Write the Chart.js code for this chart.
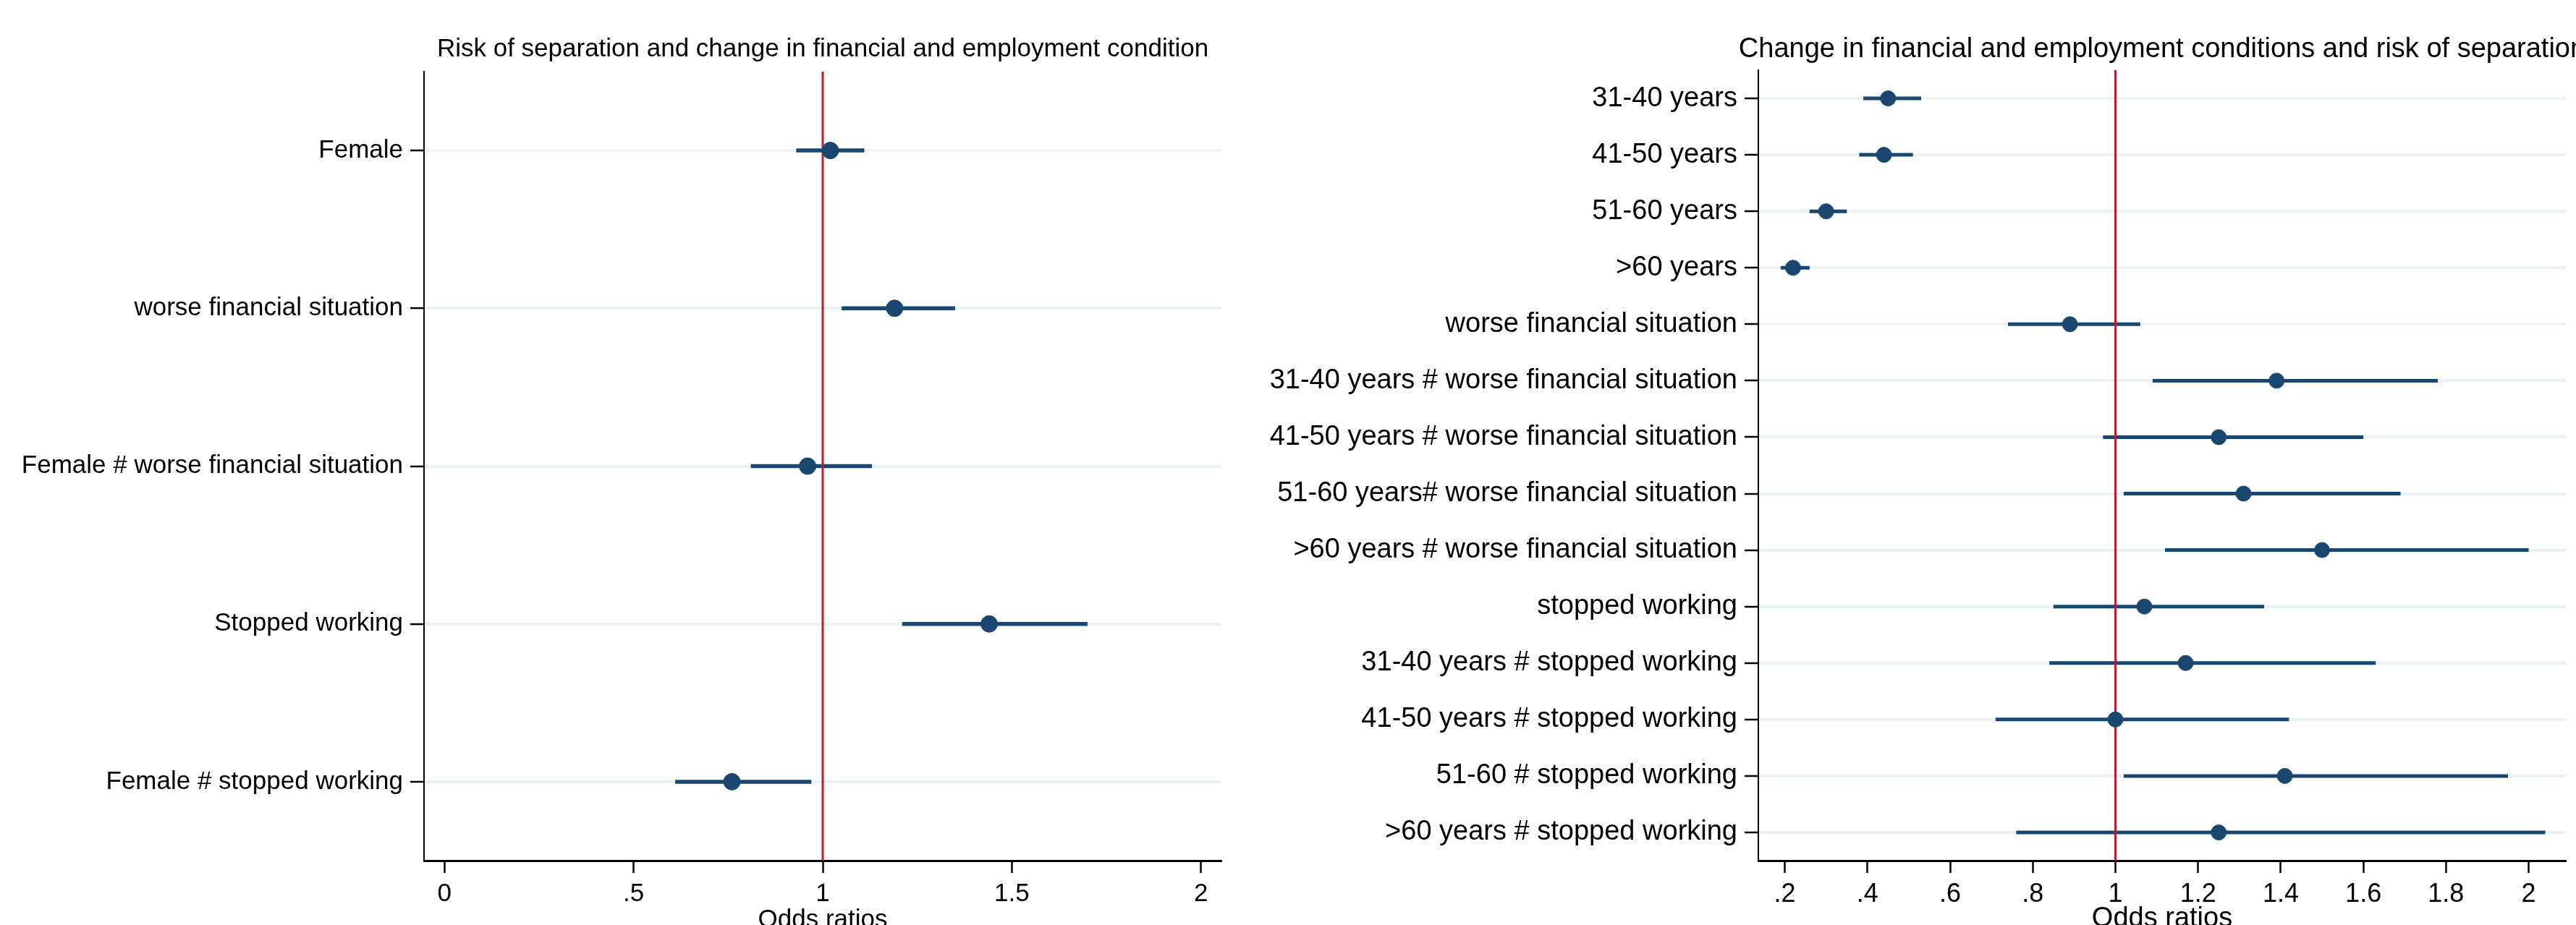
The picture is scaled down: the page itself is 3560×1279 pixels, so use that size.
<!DOCTYPE html>
<html>
<head>
<meta charset="utf-8">
<script src="https://cdn.jsdelivr.net/npm/chart.js@4.4.1/dist/chart.umd.min.js"></script>
<style>
  html, body { margin: 0; padding: 0; background: #fff; overflow: hidden; width: 3560px; height: 1279px; }
  canvas { position: absolute; top: 0; }
</style>
</head>
<body>
<canvas id="left-chart" width="1740" height="1290" style="left:0"></canvas>
<canvas id="right-chart" width="2496" height="1290" style="left:1740px"></canvas>
<script>
// left panel: sex interactions
var leftTitle = 'Risk of separation and change in financial and employment condition';
var leftLabels = ['Female', 'worse financial situation', 'Female # worse financial situation',
    'Stopped working', 'Female # stopped working'];
var leftOR = [1.02, 1.19, 0.96, 1.44, 0.76];
var leftLo = [0.93, 1.05, 0.81, 1.21, 0.61];
var leftHi = [1.11, 1.35, 1.13, 1.70, 0.97];
var leftTicks = [0, 0.5, 1, 1.5, 2];
var leftTickLabels = ['0', '.5', '1', '1.5', '2'];

// right panel: age group interactions
var rightTitle = 'Change in financial and employment conditions and risk of separation';
var rightLabels = ['31-40 years', '41-50 years', '51-60 years', '>60 years',
    'worse financial situation', '31-40 years # worse financial situation',
    '41-50 years # worse financial situation', '51-60 years# worse financial situation',
    '>60 years # worse financial situation', 'stopped working',
    '31-40 years # stopped working', '41-50 years # stopped working',
    '51-60 # stopped working', '>60 years # stopped working'];
var rightOR = [0.45, 0.44, 0.30, 0.22, 0.89, 1.39, 1.25, 1.31, 1.50, 1.07, 1.17, 1.00, 1.41, 1.25];
var rightLo = [0.39, 0.38, 0.26, 0.19, 0.74, 1.09, 0.97, 1.02, 1.12, 0.85, 0.84, 0.71, 1.02, 0.76];
var rightHi = [0.53, 0.51, 0.35, 0.26, 1.06, 1.78, 1.60, 1.69, 2.00, 1.36, 1.63, 1.42, 1.95, 2.04];
var rightTicks = [0.2, 0.4, 0.6, 0.8, 1, 1.2, 1.4, 1.6, 1.8, 2];
var rightTickLabels = ['.2', '.4', '.6', '.8', '1', '1.2', '1.4', '1.6', '1.8', '2'];

var axisTitle = 'Odds ratios';
var refValue = 1;

var navy = '#1a476f';
var gridColor = '#eaf2f3';
var refColor = '#b81d2e';
var fontFamily = '"Liberation Sans", Arial, sans-serif';

function forestPlot(id, o) {
    var n = o.labels.length;
    var ciData = [];
    var pointData = [];
    o.or.forEach(function (v, i) {
        ciData.push({ x: o.lo[i], y: i + 1 }, { x: o.hi[i], y: i + 1 }, { x: null, y: i + 1 });
        pointData.push({ x: v, y: i + 1 });
    });

    var scales = {
        x: {
            type: 'linear',
            min: o.xMin,
            max: o.xMax,
            afterBuildTicks: function (scale) {
                scale.ticks = o.ticks.map(function (v) { return { value: v }; });
            },
            afterFit: function (scale) { scale.height = 100; },
            ticks: {
                color: '#000',
                padding: 12,
                font: { family: fontFamily, size: o.tickSize, lineHeight: 1 },
                callback: function (value) {
                    return o.tickLabels[o.ticks.indexOf(value)];
                }
            },
            grid: {
                drawOnChartArea: false,
                drawTicks: true,
                tickLength: 17,
                tickColor: '#000',
                tickWidth: 2.5
            },
            border: { color: '#000', width: 3 },
            title: {
                display: true,
                text: axisTitle,
                color: '#000',
                padding: { top: 0, bottom: 0 },
                font: { family: fontFamily, size: o.axisTitleSize, lineHeight: 1 }
            }
        },
        y: {
            type: 'linear',
            reverse: true,
            min: 0.5,
            max: n + 0.5,
            afterBuildTicks: function (scale) {
                scale.ticks = o.labels.map(function (_, i) { return { value: i + 1 }; });
            },
            afterFit: function (scale) { scale.width = o.yWidth; },
            ticks: {
                autoSkip: false,
                color: '#000',
                padding: 10,
                font: { family: fontFamily, size: o.labelSize },
                callback: function (value) { return o.labels[value - 1]; }
            },
            grid: {
                color: gridColor,
                lineWidth: 4,
                drawTicks: true,
                tickLength: 19,
                tickColor: '#000',
                tickWidth: 2.5
            },
            border: { color: '#000', width: 2 }
        }
    };

    // empty spacer axis on the right, so a full-width title still centres on the plot
    if (o.rightGap) {
        scales.gap = {
            type: 'linear',
            position: 'right',
            afterFit: function (scale) { scale.width = o.rightGap; },
            ticks: { display: false },
            grid: { display: false },
            border: { display: false }
        };
    }

    var ctx = document.getElementById(id).getContext('2d');
    return new Chart(ctx, {
        type: 'scatter',
        data: {
            datasets: [{
                data: pointData,
                order: 0,
                pointRadius: o.radius,
                pointBackgroundColor: navy,
                pointBorderColor: navy,
                pointBorderWidth: 1
            }, {
                data: [{ x: refValue, y: 0.5 }, { x: refValue, y: n + 0.5 }],
                order: 1,
                showLine: true,
                borderColor: refColor,
                borderWidth: 3,
                pointRadius: 0
            }, {
                data: ciData,
                order: 2,
                showLine: true,
                spanGaps: false,
                borderColor: navy,
                borderWidth: o.ciWidth,
                borderCapStyle: 'butt',
                pointRadius: 0
            }]
        },
        options: {
            responsive: false,
            devicePixelRatio: 1,
            animation: false,
            events: [],
            layout: { padding: { left: 0, right: o.padRight, top: 0, bottom: 0 } },
            plugins: {
                legend: { display: false },
                tooltip: { enabled: false },
                title: {
                    display: true,
                    text: o.title,
                    color: '#000',
                    fullSize: o.titleFull,
                    font: { family: fontFamily, size: o.titleSize, weight: 'normal', lineHeight: 1 },
                    padding: { top: o.titleTop, bottom: o.titleBottom }
                }
            },
            scales: scales
        }
    });
}

forestPlot('left-chart', {
    title: leftTitle, labels: leftLabels, or: leftOR, lo: leftLo, hi: leftHi,
    ticks: leftTicks, tickLabels: leftTickLabels,
    xMin: -0.054, xMax: 2.054,
    yWidth: 586, padRight: 52, rightGap: 0,
    titleSize: 35, titleTop: 51, titleBottom: 13, titleFull: false,
    labelSize: 35, tickSize: 35, axisTitleSize: 35,
    radius: 11.5, ciWidth: 5.5
});

// canvas runs past the page edge so the title centres on the plot and gets cut off like the original
forestPlot('right-chart', {
    title: rightTitle, labels: rightLabels, or: rightOR, lo: rightLo, hi: rightHi,
    ticks: rightTicks, tickLabels: rightTickLabels,
    xMin: 0.136, xMax: 2.09,
    yWidth: 690, padRight: 0, rightGap: 690,
    titleSize: 38, titleTop: 50, titleBottom: 9, titleFull: true,
    labelSize: 38, tickSize: 36, axisTitleSize: 38,
    radius: 10.5, ciWidth: 5
});
</script>
</body>
</html>
